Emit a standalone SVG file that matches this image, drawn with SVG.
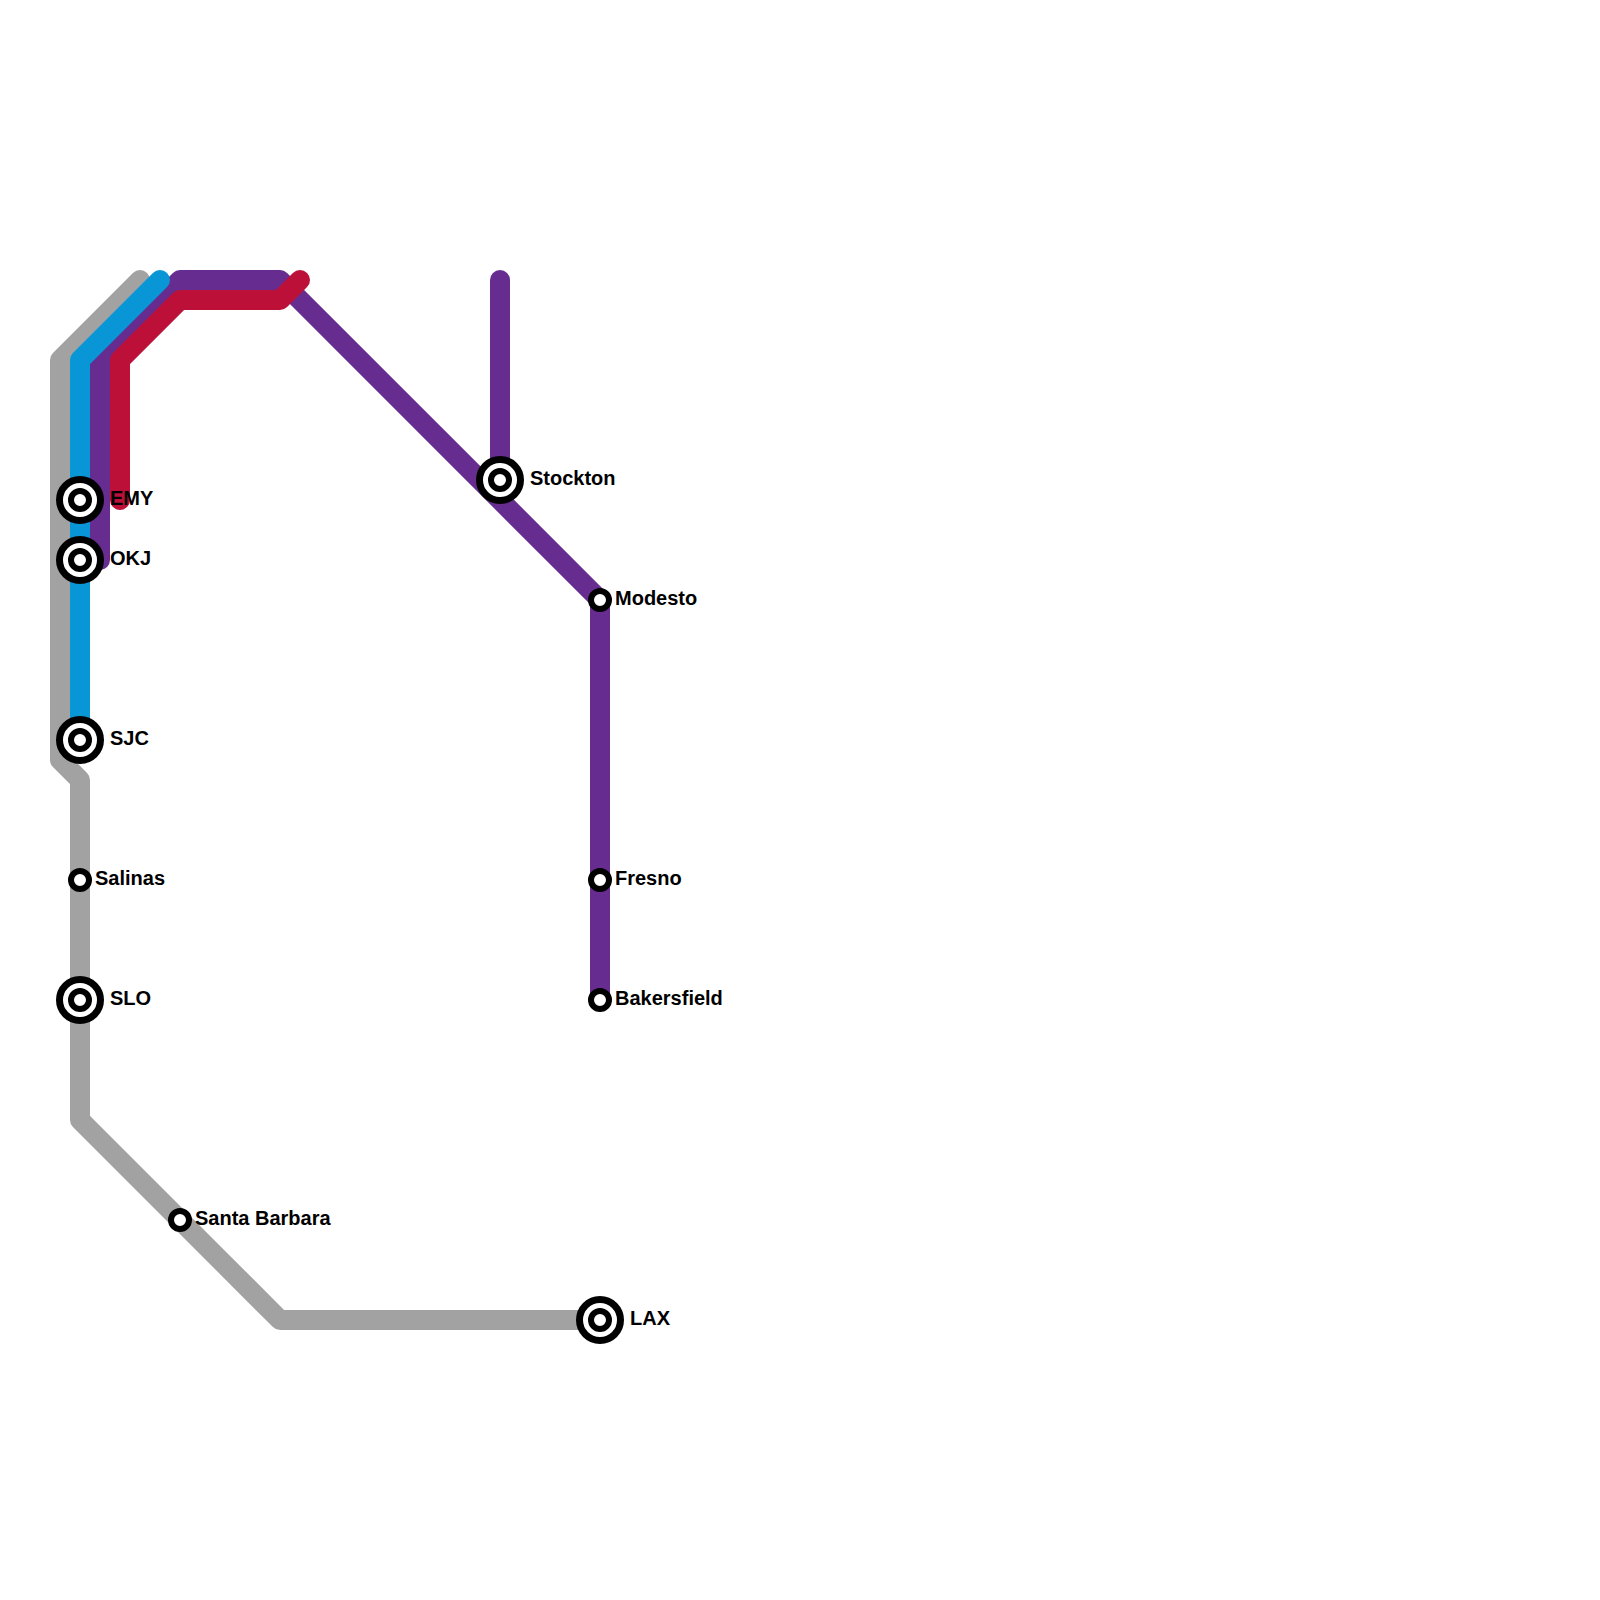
<svg xmlns="http://www.w3.org/2000/svg" width="1600" height="1600" viewBox="0 0 1600 1600">
<style>
.line{fill:none;stroke-width:20;stroke-linecap:round;stroke-linejoin:round}
.ring{fill:#fff;stroke:#000;stroke-width:7}
.dot{fill:#fff;stroke:#000;stroke-width:6}
text{font-family:"Liberation Sans",Arial,sans-serif;font-weight:700;font-size:20px;fill:#000}
</style>
<defs>
<g id="interchange"><circle class="ring" r="20.5"/><circle class="dot" r="9"/></g>
<circle id="stop" class="dot" r="9"/>
</defs>
<rect width="1600" height="1600" fill="#fff"/>
<g id="connectors">
<path class="line" stroke="#a2a2a2" d="M140 280L60 360V760L80 780V1120L280 1320H600"/>
<path class="line" stroke="#662c90" d="M100 560V360L180 280H280L600 600V1000"/>
<path class="line" stroke="#662c90" d="M500 280V480"/>
<path class="line" stroke="#0896d7" d="M160 280L80 360V740"/>
<path class="line" stroke="#bd1038" d="M120 500V360L180 300H280L300 280"/>
</g>
<g id="EMY"><use href="#interchange" x="80" y="500"/><text x="110" y="505">EMY</text></g>
<g id="OKJ"><use href="#interchange" x="80" y="560"/><text x="110" y="565">OKJ</text></g>
<g id="SJC"><use href="#interchange" x="80" y="740"/><text x="110" y="745">SJC</text></g>
<g id="Salinas"><use href="#stop" x="80" y="880"/><text x="95" y="885">Salinas</text></g>
<g id="SLO"><use href="#interchange" x="80" y="1000"/><text x="110" y="1005">SLO</text></g>
<g id="SantaBarbara"><use href="#stop" x="180" y="1220"/><text x="195" y="1225">Santa Barbara</text></g>
<g id="LAX"><use href="#interchange" x="600" y="1320"/><text x="630" y="1325">LAX</text></g>
<g id="Stockton"><use href="#interchange" x="500" y="480"/><text x="530" y="485">Stockton</text></g>
<g id="Modesto"><use href="#stop" x="600" y="600"/><text x="615" y="605">Modesto</text></g>
<g id="Fresno"><use href="#stop" x="600" y="880"/><text x="615" y="885">Fresno</text></g>
<g id="Bakersfield"><use href="#stop" x="600" y="1000"/><text x="615" y="1005">Bakersfield</text></g>
</svg>
